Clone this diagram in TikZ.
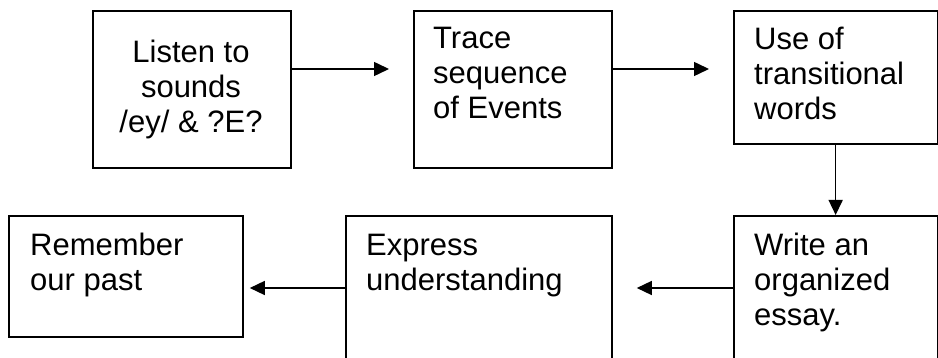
\documentclass[tikz,border=0pt]{standalone}
\usepackage{fontspec}
\setmainfont{Liberation Sans}
\usetikzlibrary{arrows.meta}

\begin{document}
\begin{tikzpicture}[x=1pt, y=-1pt,
  box/.style={draw, rectangle, line width=1.8pt, inner sep=0pt, anchor=north west},
  txt/.style={font=\fontsize{31pt}{35pt}\selectfont, inner sep=0pt},
  conn/.style={line width=1.5pt, -{Triangle[length=15pt, width=14pt]}}]

  \useasboundingbox (0,0) rectangle (938,358);
  \clip (0,0) rectangle (938,358);

  % boxes of the flow
  \node[box, minimum width=198pt, minimum height=157pt] (b1) at (92,10) {};
  \node[box, minimum width=198pt, minimum height=157pt] (b2) at (413,10) {};
  \node[box, minimum width=203.5pt, minimum height=133pt] (b3) at (733,10) {};
  \node[box, minimum width=203.5pt, minimum height=160pt] (b4) at (733,215) {};
  \node[box, minimum width=266pt, minimum height=160pt] (b5) at (345,215) {};
  \node[box, minimum width=234pt, minimum height=121pt] (b6) at (8,215) {};

  % texts
  \node[txt, anchor=base] (t1) at (191,63)
    {\begin{tabular}[t]{@{}c@{}}Listen to\\ sounds\\ /ey/ \& ?E?\end{tabular}};
  \node[txt, anchor=base west] (t2) at (433,49)
    {\begin{tabular}[t]{@{}l@{}}Trace\\ sequence\\ of Events\end{tabular}};
  \node[txt, anchor=base west] (t3) at (754,50)
    {\begin{tabular}[t]{@{}l@{}}Use of\\ transitional\\ words\end{tabular}};
  \node[txt, anchor=base west] (t4) at (754,256)
    {\begin{tabular}[t]{@{}l@{}}Write an\\ organized\\ essay.\end{tabular}};
  \node[txt, anchor=base west] (t5) at (366,256)
    {\begin{tabular}[t]{@{}l@{}}Express\\ understanding\end{tabular}};
  \node[txt, anchor=base west] (t6) at (30,256)
    {\begin{tabular}[t]{@{}l@{}}Remember\\ our past\end{tabular}};

  % levels of the horizontal connectors
  \coordinate (r1) at (0,69);
  \coordinate (r2) at (0,288);

  % connectors
  \draw[conn, shorten >=24pt] (b1.east |- r1) -- (b2.west |- r1);
  \draw[conn, shorten >=24pt] (b2.east |- r1) -- (b3.west |- r1);
  \draw[conn] (b3.south) -- (b4.north);
  \draw[conn, shorten >=24pt] (b4.west |- r2) -- (b5.east |- r2);
  \draw[conn, shorten >=6pt] (b5.west |- r2) -- (b6.east |- r2);
\end{tikzpicture}
\end{document}
